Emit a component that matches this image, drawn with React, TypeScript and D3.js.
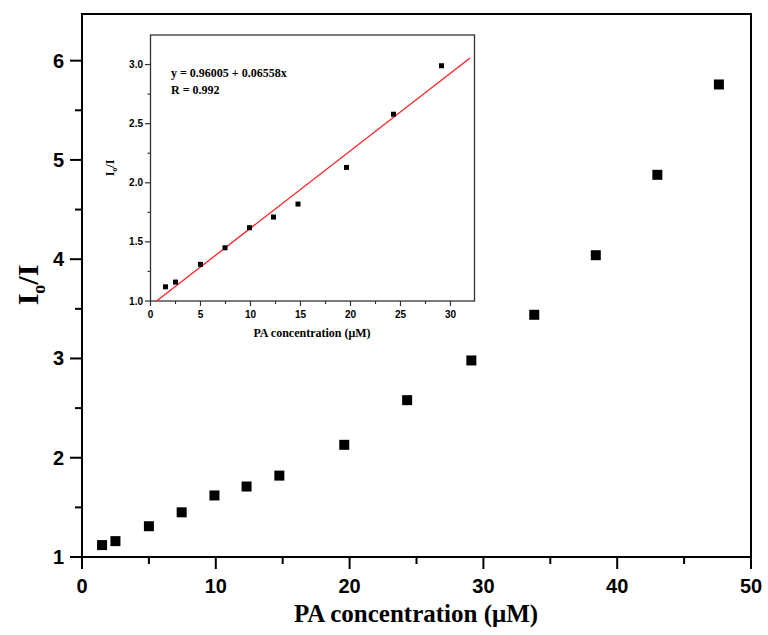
import React from "react";
import * as d3 from "d3";

const concentrations = [1.5, 2.5, 5.0, 7.45, 9.9, 12.3, 14.75, 19.6, 24.3, 29.1, 33.8, 38.4, 43.0, 47.6];
const ratios = [1.12, 1.16, 1.31, 1.45, 1.62, 1.71, 1.82, 2.13, 2.58, 2.98, 3.44, 4.04, 4.85, 5.76];
const insetRatios = [1.12, 1.16, 1.31, 1.45, 1.62, 1.71, 1.82, 2.13, 2.58, 2.99];
const mainXTicks = [0, 10, 20, 30, 40, 50];
const mainYTicks = [1, 2, 3, 4, 5, 6];
const insetXTicks = [0, 5, 10, 15, 20, 25, 30];
const insetYTicks = [1.0, 1.5, 2.0, 2.5, 3.0];
const fitIntercept = 0.96005;
const fitSlope = 0.06558;
const fitRange = [0.61, 31.95];

const SANS = "Liberation Sans, Arial, sans-serif";
const SERIF = "Liberation Serif, Times New Roman, serif";

export default function App() {
  // main plot
  const x = d3.scaleLinear().domain([0, 50]).range([82, 751]);
  const y = d3.scaleLinear().domain([1, 6.47]).range([557, 14]);
  const mainMinorX = d3.range(5, 50, 10);
  const mainMinorY = d3.range(1.5, 6.5, 1);

  // inset
  const ix = d3.scaleLinear().domain([0, 32.4]).range([150.5, 474.5]);
  const iy = d3.scaleLinear().domain([1, 3.25]).range([301, 35]);
  const insetMinorX = d3.range(2.5, 32.5, 5);
  const insetMinorY = d3.range(1.25, 3.25, 0.5);

  const fitLine = d3
    .line<number>()
    .x((d) => ix(d))
    .y((d) => iy(fitIntercept + fitSlope * d));

  const pts = concentrations.map((c, i) => ({ c, r: ratios[i] }));
  const insetPts = insetRatios.map((r, i) => ({ c: concentrations[i], r }));

  return (
    <svg width={768} height={635} style={{ position: "absolute", left: 0, top: 0, background: "#fff" }}>
      <rect x={0} y={0} width={768} height={635} fill="#fff" />
      {/* main frame */}
      <rect x={82} y={14} width={669} height={543} fill="none" stroke="#000" strokeWidth={2} />
      {/* main x ticks */}
      {mainXTicks.map((t) => (
        <g key={"mx" + t}>
          <line x1={x(t)} x2={x(t)} y1={557} y2={569} stroke="#000" strokeWidth={2} />
          <text x={x(t)} y={593} textAnchor="middle" fontFamily={SANS} fontWeight="bold" fontSize={20}>
            {t}
          </text>
        </g>
      ))}
      {mainMinorX.map((t) => (
        <line key={"mmx" + t} x1={x(t)} x2={x(t)} y1={557} y2={564} stroke="#000" strokeWidth={2} />
      ))}
      {mainYTicks.map((t) => (
        <g key={"my" + t}>
          <line x1={70} x2={82} y1={y(t)} y2={y(t)} stroke="#000" strokeWidth={2} />
          <text x={64} y={y(t) + 7} textAnchor="end" fontFamily={SANS} fontWeight="bold" fontSize={20}>
            {t}
          </text>
        </g>
      ))}
      {mainMinorY.map((t) => (
        <line key={"mmy" + t} x1={75} x2={82} y1={y(t)} y2={y(t)} stroke="#000" strokeWidth={2} />
      ))}
      {/* main points */}
      {pts.map((p, i) => (
        <rect key={"mp" + i} x={x(p.c) - 5} y={y(p.r) - 5} width={10} height={10} fill="#000" />
      ))}
      {/* main labels */}
      <text x={416} y={622} textAnchor="middle" fontFamily={SERIF} fontWeight="bold" fontSize={25}>
        PA concentration (μM)
      </text>
      <text
        transform="translate(38,285) rotate(-90)"
        textAnchor="middle"
        fontFamily={SERIF}
        fontWeight="bold"
        fontSize={30}
      >
        I<tspan fontSize={18} dy={7}>o</tspan>
        <tspan dy={-7}>/I</tspan>
      </text>

      {/* inset frame */}
      <rect x={150.5} y={35} width={324} height={266} fill="#fff" stroke="#333" strokeWidth={1.3} />
      {insetXTicks.map((t) => (
        <g key={"ix" + t}>
          <line x1={ix(t)} x2={ix(t)} y1={301} y2={306} stroke="#333" strokeWidth={1.2} />
          <text x={ix(t)} y={318} textAnchor="middle" fontFamily={SANS} fontWeight="bold" fontSize={10}>
            {t}
          </text>
        </g>
      ))}
      {insetMinorX.map((t) => (
        <line key={"imx" + t} x1={ix(t)} x2={ix(t)} y1={301} y2={304} stroke="#333" strokeWidth={1.2} />
      ))}
      {insetYTicks.map((t) => (
        <g key={"iy" + t}>
          <line x1={145} x2={150.5} y1={iy(t)} y2={iy(t)} stroke="#333" strokeWidth={1.2} />
          <text x={143} y={iy(t) + 3.5} textAnchor="end" fontFamily={SANS} fontWeight="bold" fontSize={10}>
            {t.toFixed(1)}
          </text>
        </g>
      ))}
      {insetMinorY.map((t) => (
        <line key={"imy" + t} x1={147.5} x2={150.5} y1={iy(t)} y2={iy(t)} stroke="#333" strokeWidth={1.2} />
      ))}
      <path d={fitLine(fitRange) || ""} fill="none" stroke="#ff2020" strokeWidth={1.3} />
      {insetPts.map((p, i) => (
        <rect key={"ip" + i} x={ix(p.c) - 2.5} y={iy(p.r) - 2.5} width={5} height={5} fill="#000" />
      ))}
      <text x={171} y={77} fontFamily={SERIF} fontWeight="bold" fontSize={12}>
        y = 0.96005 + 0.06558x
      </text>
      <text x={171} y={94} fontFamily={SERIF} fontWeight="bold" fontSize={12}>
        R = 0.992
      </text>
      <text x={312} y={337} textAnchor="middle" fontFamily={SERIF} fontWeight="bold" fontSize={12}>
        PA concentration (μM)
      </text>
      <text
        transform="translate(114,168) rotate(-90)"
        textAnchor="middle"
        fontFamily={SERIF}
        fontWeight="bold"
        fontSize={12}
      >
        I<tspan fontSize={8} dy={3}>o</tspan>
        <tspan dy={-3}>/I</tspan>
      </text>
    </svg>
  );
}
